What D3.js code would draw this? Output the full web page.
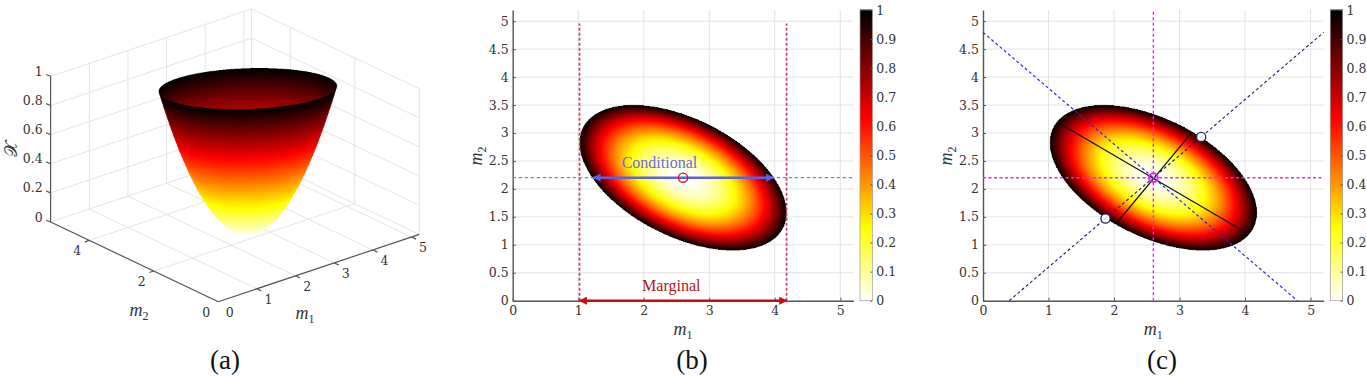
<!DOCTYPE html>
<html>
<head>
<meta charset="utf-8">
<script src="https://cdn.jsdelivr.net/npm/d3@7"></script>
<style>
    html, body { margin: 0; padding: 0; background: #fff; }
    svg { display: block; }
    svg text { font-family: "DejaVu Serif", "Liberation Serif", serif; fill: #333; }
</style>
</head>
<body>
<div id="chart"></div>
<script>
// values
const center = [2.6, 2.2];
const spread = [[2.4964, -0.988], [-0.988, 1.69]];
const m1Ticks = [0, 1, 2, 3, 4, 5];
const m2Ticks = [0, 0.5, 1, 1.5, 2, 2.5, 3, 3.5, 4, 4.5, 5];
const m2Ticks3d = [0, 2, 4];
const zTicks = [0, 0.2, 0.4, 0.6, 0.8, 1];
const barTicks = [0, 0.1, 0.2, 0.3, 0.4, 0.5, 0.6, 0.7, 0.8, 0.9, 1];
const axisMax = 5.2;
const marginal = [1.02, 4.18];
const marginalTop = 4.96;
const conditional = [1.23, 3.98];
const majorAxis = [[1.17, 3.17], [4.0, 1.23]];
const minorAxis = [[2.04, 1.39], [3.16, 2.97]];
const antiDiagonal = [[0, 4.8], [4.8, 0]];
const mainDiagonal = [[0.4, 0], [5.2, 4.8]];
const tangentPoints = [[1.87, 1.47], [3.33, 2.93]];

const tickFont = "12.5px";

// flipped "hot" colormap
const hot = d3.scaleLinear()
    .domain([0, 0.25, 0.625, 1])
    .range(["#ffffff", "#ffff00", "#ff0000", "#000000"])
    .clamp(true);

const det = spread[0][0] * spread[1][1] - spread[0][1] * spread[1][0];
const inv = [spread[1][1] / det, -spread[0][1] / det, spread[0][0] / det];
const chi = (d1, d2) => inv[0] * d1 * d1 + 2 * inv[1] * d1 * d2 + inv[2] * d2 * d2;

const svg = d3.select("#chart").append("svg")
    .attr("width", 1367)
    .attr("height", 378);

const defs = svg.append("defs");
[["arrow-blue", "#5a62e6"], ["arrow-red", "#c80c10"]].forEach(([id, color]) => {
    defs.append("marker")
        .attr("id", id)
        .attr("viewBox", "0 -5 10 10")
        .attr("refX", 9)
        .attr("refY", 0)
        .attr("markerWidth", 4.5)
        .attr("markerHeight", 3.4)
        .attr("orient", "auto-start-reverse")
        .append("path")
        .attr("d", "M0,-5L10,0L0,5Z")
        .attr("fill", color);
});

function putCanvas(g, x, y, w, h, paint) {
    const k = 3;
    const canvas = document.createElement("canvas");
    canvas.width = w * k;
    canvas.height = h * k;
    const ctx = canvas.getContext("2d");
    const img = ctx.createImageData(canvas.width, canvas.height);
    for (let j = 0; j < canvas.height; j++) {
        for (let i = 0; i < canvas.width; i++) {
            const v = paint(x + (i + 0.5) / k, y + (j + 0.5) / k);
            if (v === null) continue;
            const c = d3.rgb(hot(v));
            const p = (j * canvas.width + i) * 4;
            img.data[p] = c.r;
            img.data[p + 1] = c.g;
            img.data[p + 2] = c.b;
            img.data[p + 3] = 255;
        }
    }
    ctx.putImageData(img, 0, 0);
    g.append("image")
        .attr("x", x).attr("y", y)
        .attr("width", w).attr("height", h)
        .attr("href", canvas.toDataURL());
}

function mathLabel(g, x, y, sub, rotate) {
    const t = g.append("text")
        .attr("text-anchor", "middle")
        .attr("transform", `translate(${x},${y})` + (rotate ? " rotate(-90)" : ""))
        .style("font-size", "18px")
        .style("font-family", '"Liberation Serif", serif');
    t.append("tspan").style("font-style", "italic").text("m");
    t.append("tspan").attr("dy", 3.5).style("font-size", "12px").text(sub);
}

function styleAxis(a) {
    a.selectAll(".domain").attr("stroke", "#555").attr("stroke-width", 1.4);
    a.selectAll(".tick line").attr("stroke", "#555");
    a.selectAll(".tick text").style("font-size", tickFont);
}

// panels (b) and (c) share this frame
function drawMap(left, barLeft, labelY) {
    const g = svg.append("g");
    const x = d3.scaleLinear().domain([0, axisMax]).range([left, left + 340.7]);
    const y = d3.scaleLinear().domain([0, axisMax]).range([300.7, 10]);

    g.append("g").selectAll("line").data(m1Ticks.slice(1)).join("line")
        .attr("x1", d => x(d)).attr("x2", d => x(d))
        .attr("y1", y(0)).attr("y2", y(axisMax))
        .attr("stroke", "#e2e2e2");
    g.append("g").selectAll("line").data(m2Ticks.slice(1)).join("line")
        .attr("x1", x(0)).attr("x2", x(axisMax))
        .attr("y1", d => y(d)).attr("y2", d => y(d))
        .attr("stroke", "#e2e2e2");

    const px = Math.floor(x(0)), py = Math.floor(y(axisMax));
    putCanvas(g, px, py, 345, 295, (sx, sy) => {
        const v = chi(x.invert(sx) - center[0], y.invert(sy) - center[1]);
        return v <= 1 ? v : null;
    });

    g.append("g").attr("transform", `translate(0,${y(0)})`)
        .call(d3.axisBottom(x).tickValues(m1Ticks).tickFormat(d3.format("d")).tickSizeInner(-3).tickSizeOuter(0).tickPadding(5))
        .call(styleAxis);
    g.append("g").attr("transform", `translate(${x(0)},0)`)
        .call(d3.axisLeft(y).tickValues(m2Ticks).tickFormat(d => d).tickSizeInner(-3).tickSizeOuter(0).tickPadding(4))
        .call(styleAxis);

    mathLabel(g, x(2.6), 335, "1");
    mathLabel(g, labelY, 156, "2", true);

    // colorbar
    const barY = d3.scaleLinear().domain([0, 1]).range([300.7, 10]);
    const bar = g.append("g");
    bar.selectAll("rect").data(d3.range(0, 1, 1 / 290)).join("rect")
        .attr("x", barLeft).attr("width", 12.3)
        .attr("y", d => barY(d) - 1.5).attr("height", 2)
        .attr("fill", d => hot(d));
    bar.append("rect")
        .attr("x", barLeft).attr("y", 10).attr("width", 12.3).attr("height", 290.7)
        .attr("fill", "none").attr("stroke", "#999").attr("stroke-width", 0.7);
    bar.append("g").attr("transform", `translate(${barLeft + 12.3},0)`)
        .call(d3.axisRight(barY).tickValues(barTicks).tickFormat(d => d).tickSizeInner(-2).tickSizeOuter(0).tickPadding(4))
        .call(styleAxis)
        .call(a => a.select(".domain").remove());

    return { g, x, y };
}

function drawPanelB() {
    const { g, x, y } = drawMap(512.7, 860, 482);

    g.selectAll(".marg").data(marginal).join("line")
        .attr("class", "marg")
        .attr("x1", d => x(d)).attr("x2", d => x(d))
        .attr("y1", y(0)).attr("y2", y(marginalTop))
        .attr("stroke", "#c4475f").attr("stroke-width", 1.7).attr("stroke-dasharray", "3 2");
    g.append("line")
        .attr("x1", x(0)).attr("x2", x(axisMax))
        .attr("y1", y(center[1])).attr("y2", y(center[1]))
        .attr("stroke", "#7f7fdc").attr("stroke-width", 1.2).attr("stroke-dasharray", "3.5 2.5");
    g.append("line")
        .attr("x1", x(conditional[0])).attr("x2", x(conditional[1]))
        .attr("y1", y(center[1])).attr("y2", y(center[1]))
        .attr("stroke", "#5a62e6").attr("stroke-width", 2.4)
        .attr("marker-start", "url(#arrow-blue)").attr("marker-end", "url(#arrow-blue)");
    g.append("line")
        .attr("x1", x(marginal[0])).attr("x2", x(marginal[1]))
        .attr("y1", y(0)).attr("y2", y(0))
        .attr("stroke", "#c80c10").attr("stroke-width", 2.4)
        .attr("marker-start", "url(#arrow-red)").attr("marker-end", "url(#arrow-red)");
    g.append("circle")
        .attr("cx", x(center[0])).attr("cy", y(center[1])).attr("r", 4.6)
        .attr("fill", "none").attr("stroke", "#e0101c").attr("stroke-width", 1.4);

    g.append("text").attr("x", x(2.24)).attr("y", 168).attr("text-anchor", "middle")
        .style("font-size", "16px").style("font-family", '"Liberation Serif", serif').style("fill", "#6a6ae2").text("Conditional");
    g.append("text").attr("x", x(2.42)).attr("y", 291).attr("text-anchor", "middle")
        .style("font-size", "16px").style("font-family", '"Liberation Serif", serif').style("fill", "#b3101e").text("Marginal");
}

function drawPanelC() {
    const { g, x, y } = drawMap(983, 1330.3, 952);
    const line = d3.line().x(d => x(d[0])).y(d => y(d[1]));

    g.append("path").attr("d", line(antiDiagonal)).attr("fill", "none")
        .attr("stroke", "#2a2ae0").attr("stroke-width", 1.2).attr("stroke-dasharray", "3 2.5");
    g.append("path").attr("d", line(mainDiagonal)).attr("fill", "none")
        .attr("stroke", "#1c1c70").attr("stroke-width", 1.1).attr("stroke-dasharray", "3 2.5");
    g.append("path").attr("d", line(majorAxis)).attr("fill", "none").attr("stroke", "#111").attr("stroke-width", 1.2);
    g.append("path").attr("d", line(minorAxis)).attr("fill", "none").attr("stroke", "#111").attr("stroke-width", 1.2);

    g.append("line")
        .attr("x1", x(center[0])).attr("x2", x(center[0]))
        .attr("y1", y(0)).attr("y2", y(axisMax))
        .attr("stroke", "#f020f0").attr("stroke-width", 1.4).attr("stroke-dasharray", "3 2.5");
    g.append("line")
        .attr("x1", x(0)).attr("x2", x(axisMax))
        .attr("y1", y(center[1])).attr("y2", y(center[1]))
        .attr("stroke", "#f020f0").attr("stroke-width", 1.4).attr("stroke-dasharray", "3 2.5");

    g.append("circle")
        .attr("cx", x(center[0])).attr("cy", y(center[1])).attr("r", 4.4)
        .attr("fill", "none").attr("stroke", "#f020f0").attr("stroke-width", 2);

    g.selectAll(".tangent").data(tangentPoints).join("circle")
        .attr("class", "tangent")
        .attr("cx", d => x(d[0])).attr("cy", d => y(d[1])).attr("r", 4.6)
        .attr("fill", "#fff").attr("stroke", "#23235a").attr("stroke-width", 1.3);
    g.selectAll(".tangent-dash").data(tangentPoints).join("line")
        .attr("class", "tangent-dash")
        .attr("x1", d => x(d[0]) - 1.5).attr("x2", d => x(d[0]) + 1.5)
        .attr("y1", d => y(d[1]) + 1.2).attr("y2", d => y(d[1]) - 1.2)
        .attr("stroke", "#aab").attr("stroke-width", 0.8);
}

function drawPanelA() {
    const g = svg.append("g");
    const ox = 218.3, oy = 301.7;

    const m1X = d3.scaleLinear().domain([0, axisMax]).range([0, 201]);
    const m1Y = d3.scaleLinear().domain([0, axisMax]).range([0, -67.3]);
    const m2X = d3.scaleLinear().domain([0, axisMax]).range([0, -167.7]);
    const m2Y = d3.scaleLinear().domain([0, axisMax]).range([0, -79.7]);
    const zY = d3.scaleLinear().domain([0, 1]).range([0, -145.7]);
    const project = (a, b, z) => [ox + m1X(a) + m2X(b), oy + m1Y(a) + m2Y(b) + zY(z)];
    const seg = (p, q) => `M${project(...p)}L${project(...q)}`;

    // back walls and floor
    const wallLines = [];
    zTicks.forEach(z => {
        wallLines.push(seg([0, axisMax, z], [axisMax, axisMax, z]));
        wallLines.push(seg([axisMax, axisMax, z], [axisMax, 0, z]));
    });
    m1Ticks.slice(1).forEach(a => {
        wallLines.push(seg([a, axisMax, 0], [a, axisMax, 1]));
        wallLines.push(seg([a, 0, 0], [a, axisMax, 0]));
    });
    m2Ticks3d.slice(1).forEach(b => {
        wallLines.push(seg([axisMax, b, 0], [axisMax, b, 1]));
        wallLines.push(seg([0, b, 0], [axisMax, b, 0]));
    });
    wallLines.push(seg([axisMax, axisMax, 0], [axisMax, axisMax, 1]));
    wallLines.push(seg([axisMax, 0, 0], [axisMax, 0, 1]));
    g.append("path").attr("d", wallLines.join("")).attr("fill", "none").attr("stroke", "#e0e0e0").attr("stroke-width", 0.9);

    // axes
    const axisLines = [
        seg([0, axisMax, 0], [0, axisMax, 1]),
        seg([0, 0, 0], [0, axisMax, 0]),
        seg([0, 0, 0], [axisMax, 0, 0])
    ];
    const tk = 4.5;
    zTicks.forEach(z => {
        const p = project(0, axisMax, z);
        axisLines.push(`M${p}L${p[0] - tk},${p[1] - tk * 0.4}`);
        g.append("text").attr("x", p[0] - 8).attr("y", p[1] - 0.5).attr("text-anchor", "end")
            .style("font-size", tickFont).text(z);
    });
    m1Ticks.forEach(a => {
        const p = project(a, 0, 0);
        if (a > 0) axisLines.push(`M${p}L${p[0] + tk},${p[1] + tk * 0.48}`);
        g.append("text").attr("x", p[0] + 11.5).attr("y", p[1] + 15).attr("text-anchor", "middle")
            .style("font-size", tickFont).text(a);
    });
    m2Ticks3d.forEach(b => {
        const p = project(0, b, 0);
        if (b > 0) axisLines.push(`M${p}L${p[0] - tk},${p[1] + tk * 0.33}`);
        g.append("text").attr("x", p[0] - 12).attr("y", p[1] + 15).attr("text-anchor", "middle")
            .style("font-size", tickFont).text(b);
    });
    g.append("path").attr("d", axisLines.join("")).attr("fill", "none").attr("stroke", "#555").attr("stroke-width", 1.2);

    mathLabel(g, 139, 316, "2");
    mathLabel(g, 305, 319, "1");
    g.append("text")
        .attr("transform", "translate(17,149) rotate(-90)")
        .attr("text-anchor", "middle")
        .style("font-size", "18px")
        .text("𝒳");

    // bowl surface: walk the view ray through each pixel and keep the nearest hit at or below the rim
    const ax = m1X(1), ay = m1Y(1), bx = m2X(1), by = m2Y(1), h = -zY(1);
    const c0 = project(center[0], center[1], 0);
    const d0 = ax * by - bx * ay;
    const w = [-bx, ax];
    const wz = (ay * w[0] + by * w[1]) / h;
    const qa = chi(w[0], w[1]);
    putCanvas(g, 150, 60, 200, 185, (sx, sy) => {
        const u = sx - c0[0], v = sy - c0[1];
        const p1 = (u * by - bx * v) / d0;
        const p2 = (ax * v - ay * u) / d0;
        const qb = 2 * (inv[0] * p1 * w[0] + inv[1] * (p1 * w[1] + p2 * w[0]) + inv[2] * p2 * w[1]) - wz;
        const qc = chi(p1, p2);
        const disc = qb * qb - 4 * qa * qc;
        if (disc < 0) return null;
        const root = Math.sqrt(disc);
        const hits = [(-qb - root) / (2 * qa), (-qb + root) / (2 * qa)];
        for (const t of hits) {
            const z = t * wz;
            if (z >= 0 && z <= 1) return z;
        }
        return null;
    });
}

drawPanelA();
drawPanelB();
drawPanelC();

// captions
[["(a)", 225], ["(b)", 692], ["(c)", 1162]].forEach(([label, x]) => {
    svg.append("text").attr("x", x).attr("y", 369).attr("text-anchor", "middle")
        .style("font-size", "27px").style("font-family", '"Liberation Serif", serif').style("fill", "#111").text(label);
});
</script>
</body>
</html>
